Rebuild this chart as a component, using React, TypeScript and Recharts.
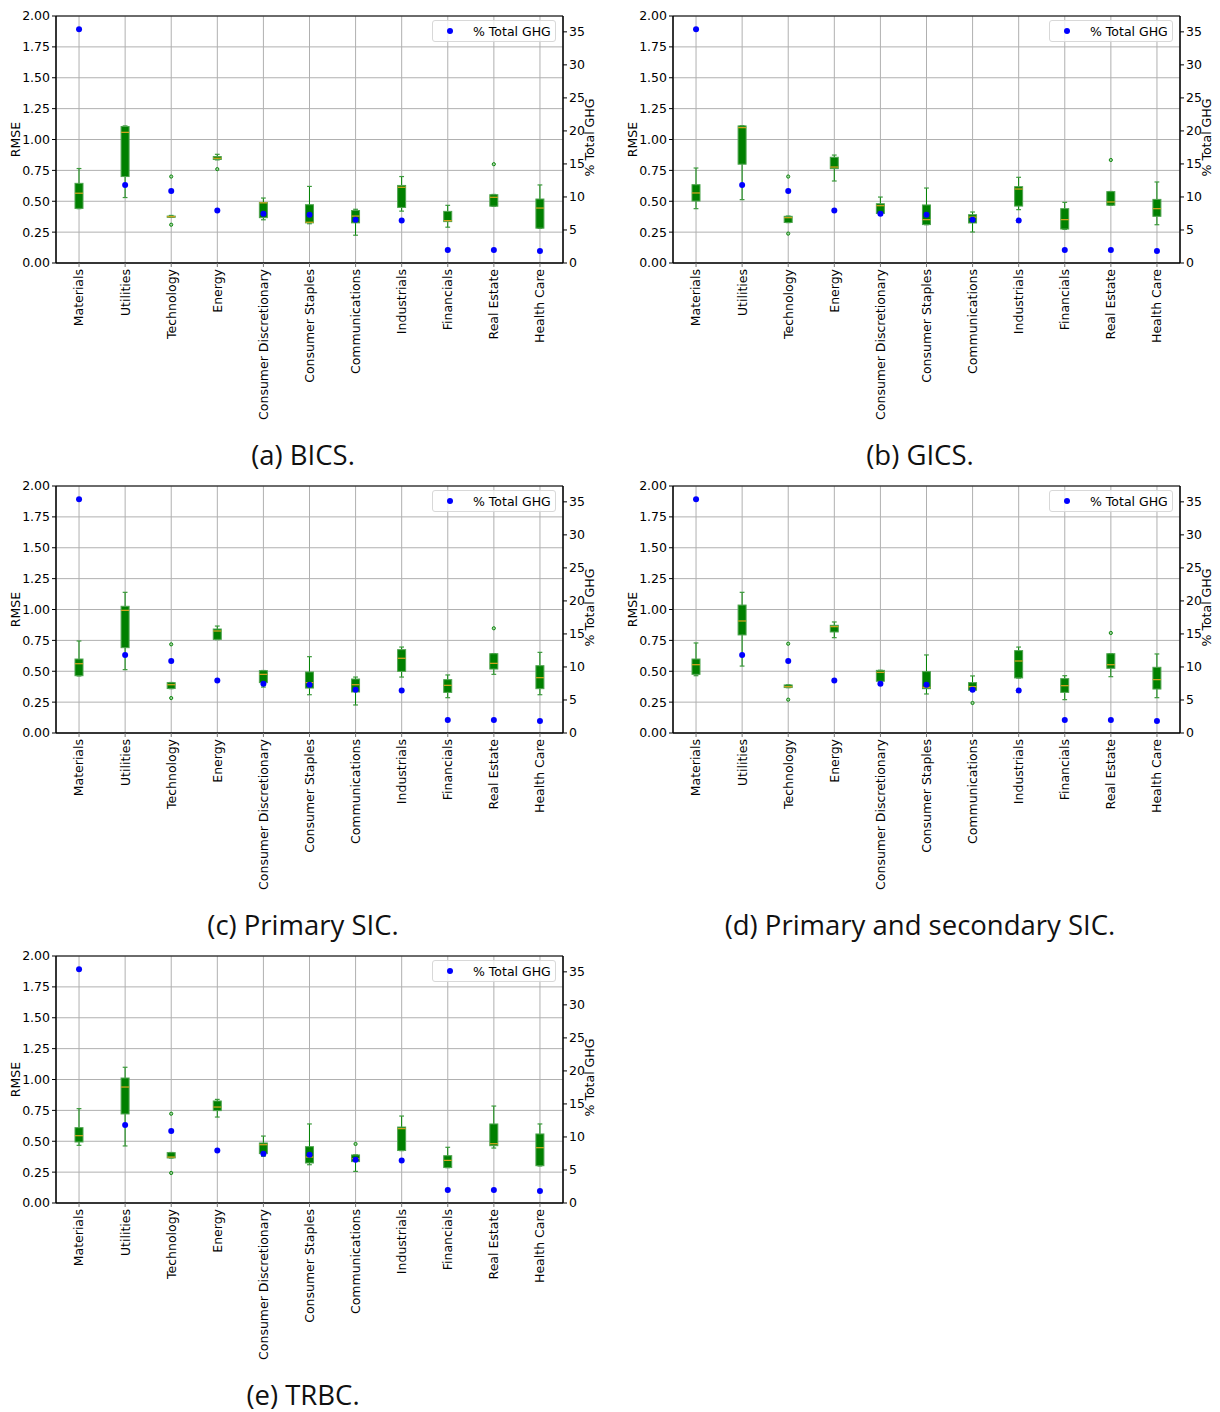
import React from 'react';
import { ComposedChart, Bar, Scatter, XAxis, YAxis, CartesianGrid, ReferenceArea } from 'recharts';

const SECTORS = [
  'Materials', 'Utilities', 'Technology', 'Energy', 'Consumer Discretionary', 'Consumer Staples',
  'Communications', 'Industrials', 'Financials', 'Real Estate', 'Health Care',
];

// share of total GHG emissions per sector, same in every panel
const GHG_SHARE = [35.4, 11.8, 10.9, 7.95, 7.45, 7.3, 6.55, 6.45, 1.95, 1.95, 1.8];

const RMSE_TICKS = [0, 0.25, 0.5, 0.75, 1, 1.25, 1.5, 1.75, 2];
const GHG_TICKS = [0, 5, 10, 15, 20, 25, 30, 35];

// [whisker low, q1, median, q3, whisker high] per sector
const BICS_BOXES = [
  [0.44, 0.442, 0.565, 0.645, 0.765], [0.53, 0.70, 1.058, 1.105, 1.11], [0.37, 0.37, 0.375, 0.38, 0.385],
  [0.835, 0.838, 0.848, 0.862, 0.88], [0.35, 0.367, 0.487, 0.49, 0.526], [0.318, 0.325, 0.33, 0.472, 0.62],
  [0.225, 0.325, 0.38, 0.425, 0.435], [0.42, 0.45, 0.613, 0.628, 0.70], [0.29, 0.335, 0.343, 0.418, 0.467],
  [0.459, 0.46, 0.532, 0.553, 0.555], [0.28, 0.282, 0.445, 0.518, 0.632],
];
const BICS_FLIERS = [[], [], [0.70, 0.31], [0.76], [], [], [], [], [], [0.80], []];

const GICS_BOXES = [
  [0.44, 0.502, 0.567, 0.634, 0.769], [0.513, 0.80, 1.096, 1.11, 1.112], [0.327, 0.328, 0.367, 0.378, 0.38],
  [0.664, 0.764, 0.777, 0.856, 0.874], [0.40, 0.401, 0.464, 0.48, 0.534], [0.31, 0.311, 0.351, 0.47, 0.607],
  [0.251, 0.324, 0.372, 0.391, 0.413], [0.432, 0.461, 0.599, 0.618, 0.694], [0.272, 0.275, 0.351, 0.44, 0.491],
  [0.467, 0.468, 0.494, 0.578, 0.579], [0.31, 0.378, 0.44, 0.515, 0.656],
];
const GICS_FLIERS = [[], [], [0.70, 0.238], [], [], [], [], [], [], [0.834], []];

const PSIC_BOXES = [
  [0.462, 0.464, 0.561, 0.599, 0.745], [0.513, 0.691, 0.993, 1.026, 1.139], [0.359, 0.36, 0.391, 0.408, 0.409],
  [0.756, 0.758, 0.826, 0.842, 0.866], [0.372, 0.408, 0.475, 0.505, 0.506], [0.31, 0.364, 0.408, 0.494, 0.618],
  [0.227, 0.332, 0.391, 0.437, 0.453], [0.453, 0.499, 0.605, 0.675, 0.696], [0.286, 0.329, 0.386, 0.432, 0.47],
  [0.475, 0.518, 0.564, 0.642, 0.643], [0.31, 0.359, 0.448, 0.545, 0.653],
];
const PSIC_FLIERS = [[], [], [0.718, 0.283], [], [], [], [], [], [], [0.848], []];

const PSSIC_BOXES = [
  [0.464, 0.475, 0.553, 0.599, 0.729], [0.542, 0.794, 0.907, 1.036, 1.139], [0.367, 0.368, 0.375, 0.389, 0.39],
  [0.772, 0.818, 0.861, 0.872, 0.899], [0.418, 0.419, 0.491, 0.507, 0.508], [0.316, 0.359, 0.37, 0.497, 0.632],
  [0.345, 0.346, 0.375, 0.408, 0.462], [0.445, 0.446, 0.583, 0.667, 0.696], [0.27, 0.329, 0.383, 0.44, 0.464],
  [0.456, 0.524, 0.553, 0.642, 0.643], [0.286, 0.356, 0.432, 0.532, 0.64],
];
const PSSIC_FLIERS = [[], [], [0.723, 0.27], [], [], [], [0.243], [], [], [0.81], []];

const TRBC_BOXES = [
  [0.467, 0.494, 0.545, 0.61, 0.764], [0.462, 0.721, 0.939, 1.012, 1.099], [0.364, 0.365, 0.372, 0.408, 0.409],
  [0.696, 0.748, 0.777, 0.826, 0.839], [0.378, 0.40, 0.472, 0.486, 0.542], [0.31, 0.324, 0.372, 0.456, 0.64],
  [0.256, 0.335, 0.359, 0.389, 0.39], [0.424, 0.425, 0.602, 0.615, 0.704], [0.286, 0.287, 0.345, 0.383, 0.451],
  [0.445, 0.464, 0.48, 0.64, 0.785], [0.30, 0.302, 0.448, 0.559, 0.64],
];
const TRBC_FLIERS = [[], [], [0.723, 0.243], [], [], [], [0.478], [], [], [], []];

const FONT = '"DejaVu Sans", sans-serif';
const GREEN = '#008000';

const BoxShape = (props: any) => {
  const { x, y, width, height, payload } = props;
  const top = Math.min(y, y + height);
  const h = Math.abs(height);
  const px = h / (payload.hi - payload.lo);
  const yOf = (v: number) => top + (payload.hi - v) * px;
  const cx = x + width / 2;
  const cap = width * 0.3;
  return (
    <g>
      <line x1={cx} x2={cx} y1={yOf(payload.hi)} y2={yOf(payload.lo)} stroke={GREEN} strokeWidth={1} />
      <line x1={cx - cap} x2={cx + cap} y1={yOf(payload.hi)} y2={yOf(payload.hi)} stroke="#3c9a3c" strokeWidth={1.2} />
      <line x1={cx - cap} x2={cx + cap} y1={yOf(payload.lo)} y2={yOf(payload.lo)} stroke="#3c9a3c" strokeWidth={1.2} />
      <rect x={x} y={yOf(payload.q3)} width={width} height={Math.max(yOf(payload.q1) - yOf(payload.q3), 1)}
        fill={GREEN} stroke="#4fa34f" strokeWidth={1} />
      <line x1={x} x2={x + width} y1={yOf(payload.med)} y2={yOf(payload.med)} stroke="#daa520" strokeWidth={1.2} />
      {payload.fliers.map((f: number, i: number) => (
        <circle key={i} cx={cx} cy={yOf(f)} r={1.6} fill="#9fd09f" stroke={GREEN} strokeWidth={0.9} />
      ))}
    </g>
  );
};

const SectorTick = (props: any) => {
  const { x, y, payload } = props;
  return (
    <g transform={`translate(${x},${y})`}>
      <text transform="rotate(-90)" textAnchor="end" dy="0.35em" fontSize={12.5} fontFamily={FONT} fill="#000">
        {payload.value}
      </text>
    </g>
  );
};

const GhgDot = (props: any) => {
  const { cx, cy } = props;
  if (cx == null || cy == null || isNaN(cy)) return <g />;
  return <circle cx={cx} cy={cy} r={3} fill="#0000ff" />;
};

interface PanelProps {
  left: number;
  top: number;
  caption: string;
  boxes: number[][];
  fliers: number[][];
}

const Panel: React.FC<PanelProps> = ({ left, top, caption, boxes, fliers }) => {
  const rows = SECTORS.map((sector, i) => ({
    sector,
    lo: boxes[i][0],
    q1: boxes[i][1],
    med: boxes[i][2],
    q3: boxes[i][3],
    hi: boxes[i][4],
    fliers: fliers[i],
    ghg: GHG_SHARE[i],
  }));
  const tickStyle = { fontSize: 12.5, fontFamily: FONT, fill: '#000' };

  return (
    <div style={{ position: 'absolute', left, top, width: 610, height: 470 }}>
      <ComposedChart width={610} height={431} data={rows} margin={{ top: 16, right: 0, bottom: 0, left: 0 }}>
        <CartesianGrid yAxisId="left" stroke="#b0b0b0" strokeWidth={1} />
        <XAxis dataKey="sector" type="category" interval={0} height={168} tick={<SectorTick />}
          tickSize={4} tickMargin={2} axisLine={{ stroke: '#000' }} tickLine={{ stroke: '#777' }} />
        <YAxis yAxisId="left" domain={[0, 2]} ticks={RMSE_TICKS} width={56} tickSize={4} tickMargin={2}
          tickFormatter={(v: number) => v.toFixed(2)} tick={tickStyle}
          axisLine={{ stroke: '#000' }} tickLine={{ stroke: '#000' }}
          label={{ value: 'RMSE', angle: -90, position: 'center', dx: -12, dy: 0, style: { ...tickStyle, textAnchor: 'middle' } }} />
        <YAxis yAxisId="right" orientation="right" domain={[0, 37.4]} ticks={GHG_TICKS} width={47}
          tickSize={4} tickMargin={2} tick={tickStyle} axisLine={{ stroke: '#000' }} tickLine={{ stroke: '#000' }}
          label={{ value: '% Total GHG', angle: -90, position: 'center', dx: 3, dy: -2, style: { ...tickStyle, textAnchor: 'middle' } }} />
        <ReferenceArea yAxisId="left" y1={0} y2={2} fill="none" stroke="#000" strokeWidth={1} />
        <Bar yAxisId="left" dataKey={(d: any) => [d.lo, d.hi]} barSize={8} shape={<BoxShape />} isAnimationActive={false} />
        <Scatter yAxisId="right" dataKey="ghg" shape={<GhgDot />} isAnimationActive={false} />
      </ComposedChart>
      <div style={{
        position: 'absolute', left: 432, top: 20, width: 124, height: 22, border: '1px solid #d8d8d8',
        borderRadius: 3, background: 'rgba(255,255,255,0.8)', fontFamily: FONT, fontSize: 12.5,
        display: 'flex', alignItems: 'center', boxSizing: 'border-box',
      }}>
        <svg width={36} height={20} style={{ flex: 'none' }}>
          <circle cx={17} cy={10} r={3} fill="#0000ff" />
        </svg>
        <span style={{ marginLeft: 4 }}>% Total GHG</span>
      </div>
      <div style={{
        position: 'absolute', left: -2, top: 436, width: 610, textAlign: 'center', lineHeight: '38px',
        fontFamily: '"Open Sans", "Noto Sans", sans-serif', fontSize: 27.5, color: '#111',
      }}>
        {caption}
      </div>
    </div>
  );
};

export default function App() {
  return (
    <div style={{ position: 'absolute', left: 0, top: 0, width: 1220, height: 1412, background: '#fff' }}>
      <Panel left={0} top={0} caption="(a) BICS." boxes={BICS_BOXES} fliers={BICS_FLIERS} />
      <Panel left={617} top={0} caption="(b) GICS." boxes={GICS_BOXES} fliers={GICS_FLIERS} />
      <Panel left={0} top={470} caption="(c) Primary SIC." boxes={PSIC_BOXES} fliers={PSIC_FLIERS} />
      <Panel left={617} top={470} caption="(d) Primary and secondary SIC." boxes={PSSIC_BOXES} fliers={PSSIC_FLIERS} />
      <Panel left={0} top={940} caption="(e) TRBC." boxes={TRBC_BOXES} fliers={TRBC_FLIERS} />
    </div>
  );
}
